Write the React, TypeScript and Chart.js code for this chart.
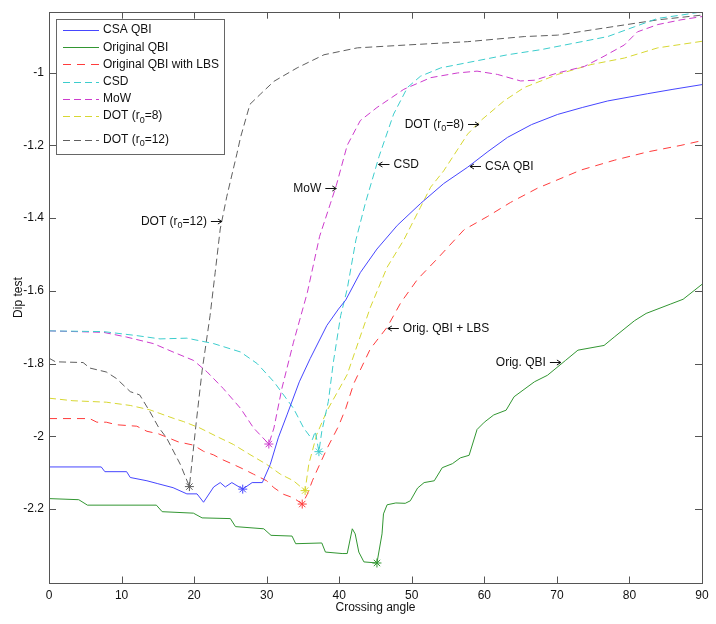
import React, { useEffect, useRef } from "react";
import { Chart, registerables } from "chart.js";

Chart.register(...registerables);

// ---------- DATA ----------
const seriesNames = ["CSA QBI", "Original QBI", "Original QBI with LBS", "CSD", "MoW", "DOT (r_0=8)", "DOT (r_0=12)"];

const csaX = [0, 7.2, 7.7, 10.7, 11.2, 13.5, 15, 17.1, 19, 20.4, 21.3, 22.7, 23.6, 24.3, 25.2, 26.7, 28, 29.4, 30.5, 31.6, 32.8, 34.5, 36, 38.3, 39.9, 40.9, 42.9, 45.2, 48, 51.2, 54.4, 57.7, 60.5, 63.2, 66.5, 70.1, 73.5, 77, 82.5, 86, 90];
const csaY = [-2.084, -2.084, -2.097, -2.097, -2.113, -2.122, -2.13, -2.141, -2.158, -2.158, -2.181, -2.139, -2.127, -2.139, -2.127, -2.145, -2.127, -2.127, -2.077, -2.004, -1.941, -1.85, -1.786, -1.695, -1.65, -1.625, -1.55, -1.485, -1.42, -1.36, -1.305, -1.26, -1.217, -1.178, -1.143, -1.115, -1.096, -1.078, -1.058, -1.046, -1.033];

const qbiX = [0, 4.1, 5.3, 14.8, 15.6, 19.9, 21.1, 25, 25.7, 29.6, 30.6, 33.5, 34, 37.6, 38.1, 40.4, 41.1, 41.8, 42.2, 42.7, 43.4, 45.2, 45.9, 46.1, 46.6, 47.8, 49.1, 49.8, 50.8, 51.7, 53.1, 54.2, 55.6, 56.7, 57.9, 59, 60, 61.3, 63, 64.1, 66.9, 68.7, 71.2, 72.9, 76.5, 77.9, 80.7, 82.3, 85.7, 87.4, 90];
const qbiY = [-2.171, -2.174, -2.189, -2.189, -2.207, -2.211, -2.224, -2.226, -2.248, -2.254, -2.272, -2.274, -2.295, -2.293, -2.318, -2.322, -2.322, -2.254, -2.268, -2.318, -2.345, -2.348, -2.268, -2.213, -2.188, -2.183, -2.184, -2.177, -2.142, -2.127, -2.122, -2.086, -2.075, -2.059, -2.052, -1.981, -1.961, -1.941, -1.928, -1.891, -1.85, -1.832, -1.791, -1.763, -1.75, -1.727, -1.682, -1.662, -1.636, -1.623, -1.582];

const lbsX = [0, 5.6, 6.6, 7.9, 9.3, 12.1, 13.5, 15.1, 16.7, 17.8, 19.9, 21.3, 22.7, 23.8, 25.4, 26.8, 28.2, 30, 31, 32.3, 33.7, 34.9, 35.6, 36.3, 36.9, 38.3, 39.9, 40.9, 42, 44.3, 46.6, 48.5, 50.8, 53.5, 57.2, 60.4, 63.6, 67.3, 73.3, 77.9, 82.5, 87.1, 90];
const lbsY = [-1.951, -1.951, -1.961, -1.961, -1.968, -1.972, -1.986, -1.993, -2.006, -2.015, -2.024, -2.041, -2.051, -2.063, -2.077, -2.09, -2.104, -2.122, -2.141, -2.159, -2.169, -2.186, -2.159, -2.122, -2.095, -2.034, -1.972, -1.923, -1.855, -1.759, -1.7, -1.632, -1.568, -1.512, -1.432, -1.396, -1.357, -1.318, -1.268, -1.241, -1.218, -1.2, -1.187];

const csdX = [0, 7.5, 12.1, 15.3, 19, 22.7, 26.4, 28.7, 31, 33.7, 35.1, 36.3, 36.7, 37.2, 37.6, 38.5, 39.2, 40.2, 41.1, 42.3, 43.6, 45.5, 47.5, 49.4, 51.2, 54, 58.6, 63.2, 67.8, 72.4, 77, 80.7, 83.9, 87.1, 90];
const csdY = [-1.71, -1.712, -1.723, -1.732, -1.73, -1.745, -1.768, -1.8, -1.85, -1.923, -1.977, -2.009, -1.986, -2.042, -1.986, -1.904, -1.795, -1.668, -1.595, -1.46, -1.359, -1.23, -1.114, -1.041, -1.01, -0.987, -0.969, -0.951, -0.937, -0.919, -0.901, -0.874, -0.851, -0.842, -0.833];

const mowX = [0, 7.5, 10.7, 14.4, 17.1, 19.9, 21.8, 24, 26.4, 28.2, 30.3, 31, 32.1, 33.7, 35.6, 37.3, 38.8, 39.6, 41.1, 42.9, 45.2, 48.9, 52.6, 56.3, 59, 61.8, 65, 66.9, 70.1, 73.8, 76.5, 79.3, 81.1, 83.9, 87.1, 90];
const mowY = [-1.71, -1.714, -1.727, -1.745, -1.768, -1.791, -1.823, -1.868, -1.923, -1.977, -2.021, -1.977, -1.868, -1.741, -1.605, -1.45, -1.359, -1.31, -1.2, -1.132, -1.096, -1.046, -1.014, -1.001, -0.996, -1.005, -1.023, -1.021, -1.001, -0.983, -0.955, -0.924, -0.888, -0.868, -0.855, -0.846];

const dot8X = [0, 3.3, 7.9, 11.2, 13.9, 17.1, 18.5, 20.8, 23.1, 25.4, 27.7, 30, 31.9, 33.7, 35.3, 35.8, 36.9, 38.3, 39.7, 41.1, 42.3, 44.3, 46.6, 48.9, 51.2, 52.6, 54.4, 57.7, 59.5, 62.7, 65.5, 70.1, 74.7, 79.3, 83.9, 90];
const dot8Y = [-1.895, -1.902, -1.906, -1.915, -1.927, -1.95, -1.959, -1.977, -2.0, -2.022, -2.05, -2.077, -2.104, -2.122, -2.149, -2.077, -1.995, -1.93, -1.88, -1.83, -1.76, -1.645, -1.535, -1.46, -1.37, -1.315, -1.27, -1.169, -1.132, -1.078, -1.041, -1.005, -0.978, -0.96, -0.932, -0.914];

const dot12X = [0, 0.9, 4.7, 5.6, 7.9, 9.3, 11.2, 12.5, 13.9, 15.1, 16.2, 18.1, 19.35, 20.3, 21.1, 22.2, 22.9, 23.6, 24.5, 25.9, 26.4, 27.7, 29.1, 31, 34.2, 37.9, 42.5, 49.4, 57.7, 65.5, 70.1, 74.7, 79.3, 83.9, 90];
const dot12Y = [-1.785, -1.795, -1.797, -1.812, -1.823, -1.841, -1.877, -1.886, -1.932, -1.975, -2.004, -2.077, -2.138, -1.96, -1.82, -1.668, -1.55, -1.43, -1.341, -1.223, -1.178, -1.087, -1.06, -1.024, -0.987, -0.951, -0.932, -0.924, -0.915, -0.901, -0.897, -0.883, -0.869, -0.855, -0.842];

// detected-angle markers (one per series, same order)
const markerX = [26.7, 45.2, 34.9, 37.2, 30.3, 35.3, 19.35];
const markerY = [-2.145, -2.348, -2.186, -2.042, -2.021, -2.149, -2.138];

const xTicks = [0, 10, 20, 30, 40, 50, 60, 70, 80, 90];
const yTicks = [-2.2, -2, -1.8, -1.6, -1.4, -1.2, -1];

const annoTexts = ["DOT (r_0=12)", "MoW", "CSD", "DOT (r_0=8)", "CSA QBI", "Orig. QBI + LBS", "Orig. QBI"];
const annoX = [23.83, 39.6, 45.41, 59.27, 58.02, 46.7, 70.55];
const annoY = [-1.408, -1.316, -1.252, -1.141, -1.257, -1.702, -1.795];
const annoSide = ["left", "left", "right", "left", "right", "right", "left"];

// ---------- STYLE ----------
const colors = ["rgb(70,70,255)", "rgb(50,150,50)", "rgb(255,60,60)", "rgb(60,205,205)", "rgb(205,60,205)", "rgb(215,215,50)", "rgb(95,95,95)"];
const dashes: number[][] = [[], [], [8, 6], [7, 4], [7, 4], [7, 4], [7, 4]];
const FONT = "'Liberation Sans', Arial, Helvetica, sans-serif";

const xs = [csaX, qbiX, lbsX, csdX, mowX, dot8X, dot12X];
const ys = [csaY, qbiY, lbsY, csdY, mowY, dot8Y, dot12Y];

function drawRich(ctx: CanvasRenderingContext2D, str: string, x: number, y: number, align: "left" | "right") {
  const parts: { t: string; sub: boolean }[] = [];
  const re = /_(\w)/g;
  let last = 0;
  let m: RegExpExecArray | null;
  while ((m = re.exec(str))) {
    if (m.index > last) parts.push({ t: str.slice(last, m.index), sub: false });
    parts.push({ t: m[1], sub: true });
    last = m.index + m[0].length;
  }
  if (last < str.length) parts.push({ t: str.slice(last), sub: false });
  const mainFont = `12px ${FONT}`;
  const subFont = `9px ${FONT}`;
  let total = 0;
  for (const p of parts) {
    ctx.font = p.sub ? subFont : mainFont;
    total += ctx.measureText(p.t).width;
  }
  let cx = align === "right" ? x - total : x;
  ctx.textAlign = "left";
  ctx.textBaseline = "middle";
  for (const p of parts) {
    ctx.font = p.sub ? subFont : mainFont;
    ctx.fillText(p.t, cx, p.sub ? y + 4.5 : y);
    cx += ctx.measureText(p.t).width;
  }
}

const framePlugin = {
  id: "matlabFrame",
  afterDatasetsDraw(chart: any) {
    const ctx: CanvasRenderingContext2D = chart.ctx;
    const { left, right, top, bottom } = chart.chartArea;
    const xs_ = chart.scales.x;
    const ys_ = chart.scales.y;
    ctx.save();
    ctx.strokeStyle = "#555";
    ctx.lineWidth = 1;
    ctx.strokeRect(Math.round(left) + 0.5, Math.round(top) + 0.5, Math.round(right - left), Math.round(bottom - top));
    ctx.beginPath();
    for (const v of xTicks) {
      const px = Math.round(xs_.getPixelForValue(v)) + 0.5;
      ctx.moveTo(px, bottom); ctx.lineTo(px, bottom - 6.5);
      ctx.moveTo(px, top); ctx.lineTo(px, top + 6.5);
    }
    for (const v of yTicks) {
      const py = Math.round(ys_.getPixelForValue(v)) + 0.5;
      ctx.moveTo(left, py); ctx.lineTo(left + 7, py);
      ctx.moveTo(right, py); ctx.lineTo(right - 7, py);
    }
    ctx.stroke();

    // annotations
    ctx.strokeStyle = "#111";
    ctx.fillStyle = "#111";
    for (let i = 0; i < annoTexts.length; i++) {
      const tx = xs_.getPixelForValue(annoX[i]);
      const ty = Math.round(ys_.getPixelForValue(annoY[i])) + 0.5;
      const dir = annoSide[i] === "left" ? 1 : -1;
      const sx = tx - dir * 11;
      ctx.beginPath();
      ctx.moveTo(sx, ty); ctx.lineTo(tx, ty);
      ctx.moveTo(tx - dir * 4, ty - 2.5); ctx.lineTo(tx, ty); ctx.lineTo(tx - dir * 4, ty + 2.5);
      ctx.stroke();
      if (dir === 1) drawRich(ctx, annoTexts[i], sx - 4, ty, "right");
      else drawRich(ctx, annoTexts[i], sx + 4, ty, "left");
    }

    // legend box
    const bx = Math.round(left) + 7;
    const by = Math.round(top) + 7;
    const bw = 168;
    const bh = 135;
    ctx.fillStyle = "#fff";
    ctx.fillRect(bx, by, bw, bh);
    ctx.strokeStyle = "#666";
    ctx.strokeRect(bx + 0.5, by + 0.5, bw, bh);
    const rowY = [11, 28.3, 45.3, 62.7, 80, 97, 120.5];
    for (let i = 0; i < seriesNames.length; i++) {
      const ry = Math.round(by + rowY[i]) + 0.5;
      ctx.strokeStyle = colors[i];
      ctx.setLineDash(dashes[i]);
      ctx.beginPath();
      ctx.moveTo(bx + 7, ry); ctx.lineTo(bx + 43, ry);
      ctx.stroke();
      ctx.setLineDash([]);
      ctx.fillStyle = "#111";
      drawRich(ctx, seriesNames[i], bx + 47, by + rowY[i], "left");
    }
    ctx.restore();
  },
};

export default function App() {
  const ref = useRef<HTMLCanvasElement>(null);
  useEffect(() => {
    if (!ref.current) return;
    Chart.defaults.font.family = FONT;
    const lineSets = seriesNames.map((name, i) => ({
      label: name,
      data: xs[i].map((x, j) => ({ x, y: ys[i][j] })),
      borderColor: colors[i],
      backgroundColor: colors[i],
      borderWidth: 1,
      borderDash: dashes[i],
      pointRadius: 0,
      tension: 0,
      fill: false,
    }));
    const markerSet = {
      label: "markers",
      data: markerX.map((x, j) => ({ x, y: markerY[j] })),
      showLine: false,
      pointStyle: "star",
      pointRadius: 4.5,
      pointBorderWidth: 1,
      pointBorderColor: colors,
      pointBackgroundColor: colors,
      borderColor: colors,
    };
    const chart = new Chart(ref.current, {
      type: "line",
      data: { datasets: [markerSet as any, ...lineSets] },
      options: {
        animation: false,
        responsive: false,
        devicePixelRatio: 1,
        layout: { padding: { top: 7, right: 14, left: 0, bottom: 0 } },
        plugins: { legend: { display: false }, tooltip: { enabled: false } },
        scales: {
          x: {
            type: "linear",
            min: 0,
            max: 90,
            grid: { display: false, drawTicks: false },
            border: { display: false },
            afterBuildTicks: (s: any) => { s.ticks = xTicks.map((v) => ({ value: v })); },
            afterFit: (s: any) => { s.height = 41; },
            ticks: { color: "#111", font: { size: 12 }, padding: 5, maxRotation: 0, callback: (v: any) => String(v) },
            title: { display: true, text: "Crossing angle", color: "#111", font: { size: 12 }, padding: { top: 0, bottom: 9 } },
          },
          y: {
            type: "linear",
            min: -2.403,
            max: -0.834,
            grid: { display: false, drawTicks: false },
            border: { display: false },
            afterBuildTicks: (s: any) => { s.ticks = yTicks.map((v) => ({ value: v })); },
            afterFit: (s: any) => { s.width = 49; },
            ticks: { color: "#111", font: { size: 12 }, padding: 5, callback: (v: any) => String(Math.round(Number(v) * 10) / 10) },
            title: { display: true, text: "Dip test", color: "#111", font: { size: 12 }, padding: { top: 11, bottom: 0 } },
          },
        },
      },
      plugins: [framePlugin],
    });
    return () => chart.destroy();
  }, []);
  return (
    <div style={{ position: "absolute", left: 0, top: 0, width: 716, height: 624, background: "#fff" }}>
      <canvas ref={ref} width={716} height={624} style={{ display: "block", width: 716, height: 624 }} />
    </div>
  );
}
